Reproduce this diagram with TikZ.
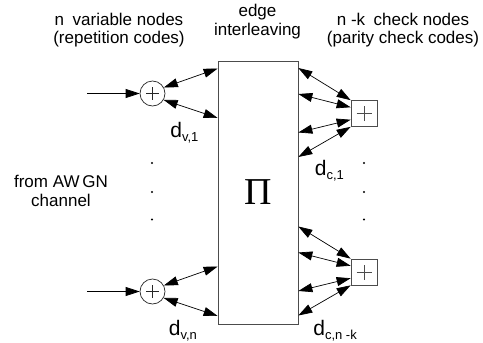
\documentclass[tikz,border=0pt]{standalone}
\usepackage{fontspec}
\setmainfont{Liberation Sans}
\newfontfamily\pifont{Liberation Serif}
\usetikzlibrary{arrows.meta,calc}
\newcommand{\dsub}[1]{{\fontsize{21}{21}\selectfont d}\raisebox{-4.5pt}{\fontsize{13}{13}\selectfont #1}}
\begin{document}
\begin{tikzpicture}[x=1pt, y=-1pt, font=\fontsize{17}{18.5}\selectfont, line width=0.7pt,
  >={Triangle[length=14pt,width=9pt]},
  lab/.style={align=center, inner sep=0pt},
  dlab/.style={anchor=base west, inner sep=0pt},
  plus/.style={path picture={\draw[line width=0.6pt] (path picture bounding box.center)
    +(-#1,0) -- +(#1,0) +(0,-#1) -- +(0,#1);}},
  varnode/.style={circle, draw=black!85, minimum size=25pt, inner sep=0pt, plus=6.3pt},
  chknode/.style={rectangle, draw=black!70, minimum size=26pt, inner sep=0pt, plus=7.5pt}]
  \useasboundingbox (0,0) rectangle (483,343);
  \node[lab] (varlab) at (119,30) {n\enspace variable nodes\\(repetition codes)};
  \node[lab] (edgelab) at (257.5,21.5) {edge\\interleaving};
  \node[lab] (chklab) at (403,30) {n -k\enspace check nodes\\(parity check codes)};
  \node[lab] (awgn) at (61,191) {from AW\,GN\\channel};
  \node[draw=black!70, minimum width=80pt, minimum height=263pt, inner sep=0pt,
    font=\pifont\fontsize{38}{38}\selectfont] (pi) at (258,192.5) {Π};
  \node[varnode] (v1) at (152.5,93.5) {};
  \node[varnode] (vn) at (152.5,291.5) {};
  \node[chknode] (c1) at (364,113.5) {};
  \node[chknode] (cn) at (364,272) {};
  \coordinate (in1) at (87,93.5);
  \coordinate (inn) at (87,291.5);
  \draw[->] (in1) -- (v1);
  \draw[->] (inn) -- (vn);
  \foreach \v in {v1,vn}
    \foreach \dy/\a in {-25/28,24.5/-30}
      \draw[<->] (\v.\a) -- ($(pi.west |- \v)+(0,\dy)$);
  \foreach \c in {c1,cn}
    \foreach \dy/\a in {-45.5/north west,-19.5/155,19/205,43.5/south west}
      \draw[<->] ($(pi.east |- \c)+(0,\dy)$) -- (\c.\a);
  \node[dlab] (dv1) at (170,137) {\dsub{v,1}};
  \node[dlab] (dvn) at (168.5,335) {\dsub{v,n}};
  \node[dlab] (dc1) at (314.5,175) {\dsub{c,1}};
  \node[dlab] (dcn) at (313,335) {\dsub{c,n -k}};
  \foreach \x in {152,364}
    \foreach \y in {163,192,219.5}
      \fill (\x,\y) circle (1.1pt);
\end{tikzpicture}
\end{document}
